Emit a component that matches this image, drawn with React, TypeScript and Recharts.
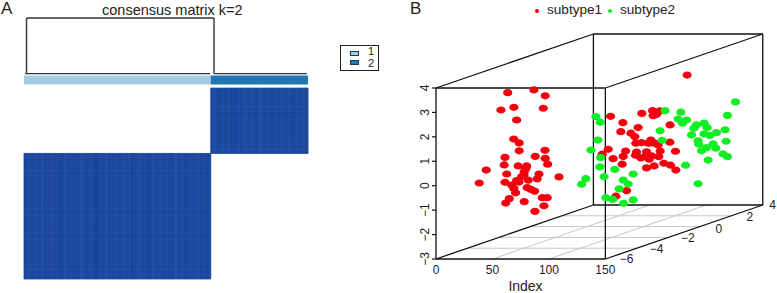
import React from 'react'
import {
  ComposedChart, Bar, Cell, XAxis, YAxis, ReferenceLine, ReferenceArea,
  ScatterChart, Scatter,
} from 'recharts'

// consensus matrix: sample counts per cluster, rows run cluster 2 then cluster 1
const clusterSizes = [96, 50]
const clusterColors = ['#a6cbe2', '#1f78b4']

// per sample consensus read from the faint stripes in each block
const cluster1Consensus = [
  1, 1, 0.97, 1, 1, 1, 0.98, 1, 1, 0.96, 1, 1, 1, 1, 0.98, 1, 1, 0.97, 1, 1, 1, 0.96, 1, 1,
  0.98, 1, 1, 1, 1, 0.96, 0.98, 1, 1, 1, 0.97, 1, 1, 1, 1, 0.98, 1, 1, 0.96, 1, 1, 1, 1, 0.97,
  1, 1, 1, 0.98, 1, 1, 0.96, 1, 1, 1, 1, 0.97, 1, 1, 0.98, 1, 1, 1, 0.96, 1, 1, 1, 0.98, 1,
  1, 0.97, 1, 1, 1, 1, 0.96, 1, 1, 0.98, 1, 1, 1, 0.97, 1, 1, 1, 0.96, 1, 1, 0.98, 1, 1, 1,
]
const cluster2Consensus = [
  1, 1, 0.98, 1, 1, 1, 0.97, 1, 1, 0.98, 1, 1, 1, 1, 0.96, 1, 1, 0.98, 1, 1, 1, 0.97, 1, 1, 1,
  0.95, 0.97, 1, 1, 0.98, 1, 1, 1, 0.97, 1, 1, 0.98, 1, 1, 1, 0.96, 1, 1, 1, 0.98, 1, 1, 0.97, 1, 1,
]
const cluster1Rows = [53, 58, 63, 67, 72, 78, 83, 87, 92, 97, 101, 106, 111, 116, 120, 125, 130, 135, 139, 143]
const cluster2Rows = [4, 9, 14, 18, 24, 29, 33, 38, 43, 47]

const dendrogramLegs = [1.3, 97.7]
const dendrogramTop = -53.5
const dendrogramFoot = -11
const annotationBand = [-9.6, -2.7]

const legendLabels = ['1', '2']

// 3D plot, points as projected onto the front face (index units, z units)
const subtype1Points = [
  [63.5, 3.81], [86.7, 3.92], [96.7, 3.68], [57.5, 3.10], [69.0, 3.21], [95.0, 3.17], [71.4, 2.69],
  [68.8, 1.91], [73.7, 1.75], [73.7, 1.43], [96.5, 1.45], [87.9, 1.20], [61.1, 1.16], [96.7, 1.12],
  [60.4, 0.85], [98.9, 0.88], [72.8, 0.81], [80.3, 0.81], [44.5, 0.64], [78.1, 0.57], [62.6, 0.48],
  [91.2, 0.48], [108.9, 0.36], [75.8, 0.37], [38.3, 0.11], [61.1, 0.14], [71.4, 0.21], [81.7, 0.23],
  [89.6, 0.28], [67.0, 0.03], [69.0, -0.11], [70.5, -0.29], [80.8, -0.08], [84.1, -0.15], [87.3, -0.22],
  [94.1, -0.49], [98.5, -0.49], [64.9, -0.53], [61.7, -0.71], [78.1, -0.65], [95.6, -0.82], [87.6, -1.05],
  [77.9, 0.44], [79.6, 0.71], [73.5, 0.15],
  [222.4, 4.53], [154.6, 2.84], [182.3, 2.96], [191.8, 3.07], [198.2, 3.06], [192.3, 2.87], [195.3, 2.92],
  [165.5, 2.58], [179.0, 2.38], [207.3, 2.49], [163.7, 2.21], [172.6, 2.15], [176.1, 2.01], [177.0, 1.74],
  [182.0, 1.76], [190.3, 1.87], [187.9, 1.74], [193.8, 1.74], [207.1, 1.78], [152.5, 1.49], [147.2, 1.29],
  [167.9, 1.42], [177.6, 1.38], [186.5, 1.39], [198.5, 1.42], [212.1, 1.41], [176.7, 1.25], [165.8, 1.20],
  [185.0, 1.19], [190.9, 1.22], [197.3, 1.19], [156.9, 1.11], [188.8, 1.09], [164.9, 0.88], [201.8, 0.92],
  [207.7, 0.84], [193.2, 0.81], [186.5, 0.73], [212.4, 0.64], [168.8, -0.20], [159.3, -0.43], [189.4, 1.75],
  [196.7, 1.67], [181.4, 1.14],
]
const subtype2Points = [
  [265.2, 3.43], [202.9, 3.07], [216.8, 3.01], [258.1, 2.88], [141.6, 2.83], [145.4, 2.60], [214.4, 2.73],
  [221.9, 2.69], [218.3, 2.56], [230.7, 2.49], [237.4, 2.56], [240.1, 2.38], [228.3, 2.35], [256.0, 2.29],
  [198.5, 2.25], [237.4, 2.12], [248.4, 2.17], [242.5, 2.06], [226.3, 2.08], [200.3, 1.86], [143.4, 1.87],
  [232.1, 1.84], [256.9, 1.82], [232.7, 1.70], [245.4, 1.71], [137.2, 1.46], [239.6, 1.56], [247.8, 1.54],
  [235.1, 1.43], [254.2, 1.30], [258.1, 1.19], [145.8, 1.15], [241.0, 1.05], [145.1, 0.77], [221.0, 0.84],
  [158.4, 0.67], [174.6, 0.48], [148.9, 0.37], [132.7, 0.29], [128.9, 0.06], [165.8, 0.23], [170.2, 0.07],
  [162.2, -0.13], [232.1, 0.08], [150.4, -0.49], [156.4, -0.56], [174.6, -0.58], [166.1, -0.72],
]

const indexTicks = [0, 50, 100, 150]
const zTicks = [-3, -2, -1, 0, 1, 2, 3, 4]
const depthGrid = [-4, -2, 0, 2]
const indexGrid = [50, 100]
const depthLabels = [
  { text: '\u22126', x: 168.8, y: -3 },
  { text: '\u22124', x: 195.3, y: -2.58 },
  { text: '\u22122', x: 223, y: -2.14 },
  { text: '0', x: 250.5, y: -1.76 },
  { text: '2', x: 277.9, y: -1.27 },
  { text: '4', x: 298.2, y: -0.79 },
]

const font = 'Arial, "Liberation Sans", sans-serif'
const DEPTH_DX = 139.4
const DEPTH_DZ = 2.21

const project = (index: number, depth: number, z: number) => {
  const t = (depth + 6) / 10
  return { x: index + t * DEPTH_DX, y: z + t * DEPTH_DZ }
}

const boxEdges = [
  [[0, -6, -3], [150, -6, -3]], [[150, -6, -3], [150, -6, 4]], [[150, -6, 4], [0, -6, 4]], [[0, -6, 4], [0, -6, -3]],
  [[0, 4, -3], [150, 4, -3]], [[150, 4, -3], [150, 4, 4]], [[150, 4, 4], [0, 4, 4]], [[0, 4, 4], [0, 4, -3]],
  [[0, -6, -3], [0, 4, -3]], [[150, -6, -3], [150, 4, -3]], [[150, -6, 4], [150, 4, 4]], [[0, -6, 4], [0, 4, 4]],
]

const toColor = (v: number) => {
  const t = (1 - v) / 0.1
  const r = Math.round(27 + t * 16)
  const g = Math.round(70 + t * 22)
  const b = Math.round(158 + t * 18)
  return `rgb(${r},${g},${b})`
}

const matrixRows = [
  ...cluster1Consensus.map((c, i) => ({ sample: i + 0.5, range: [clusterSizes[1], clusterSizes[0] + clusterSizes[1]], c })),
  ...cluster2Consensus.map((c, i) => ({ sample: clusterSizes[0] + i + 0.5, range: [0, clusterSizes[1]], c })),
]

const toPoints = (pts: number[][]) => pts.map(([x, y]) => ({ x, y }))

const Dot = (color: string) => (p: any) => <ellipse cx={p.cx} cy={p.cy} rx={4.6} ry={3.6} fill={color} />

const ZTick = (p: any) => (
  <text
    transform={`translate(${p.x - 1},${p.y}) rotate(-90)`}
    textAnchor="middle"
    fontSize={12}
    fontFamily={font}
    fill="#222"
  >
    {String(p.payload.value).replace('-', '\u2212')}
  </text>
)

const abs = (left: number, top: number, extra?: React.CSSProperties): React.CSSProperties => ({
  position: 'absolute', left, top, fontFamily: font, color: '#222', whiteSpace: 'nowrap', lineHeight: 1, ...extra,
})

export default function App() {
  const n = clusterSizes[0] + clusterSizes[1]
  return (
    <div style={{ position: 'absolute', left: 0, top: 0, width: 777, height: 293, background: '#fff', overflow: 'hidden' }}>
      <div style={{ position: 'absolute', left: 0, top: 0 }}>
        <ComposedChart
          width={330}
          height={293}
          data={matrixRows}
          barCategoryGap={0}
          barGap={0}
          margin={{ top: 17.4, right: 22, bottom: 14, left: 24 }}
        >
          <XAxis type="number" dataKey="sample" domain={[0, n]} hide />
          <YAxis type="number" domain={[-54, n]} reversed hide />
          <Bar dataKey="range" isAnimationActive={false}>
            {matrixRows.map(r => <Cell key={r.sample} fill={toColor(r.c)} stroke={toColor(r.c)} strokeWidth={0.8} />)}
          </Bar>
          {cluster1Rows.map(y => (
            <ReferenceLine
              key={`a${y}`}
              segment={[{ x: 0, y }, { x: clusterSizes[0], y }]}
              stroke="#3a63b2"
              strokeOpacity={0.3}
              strokeWidth={0.8}
            />
          ))}
          {cluster2Rows.map(y => (
            <ReferenceLine
              key={`b${y}`}
              segment={[{ x: clusterSizes[0], y }, { x: n, y }]}
              stroke="#3a63b2"
              strokeOpacity={0.3}
              strokeWidth={0.8}
            />
          ))}
          <ReferenceArea
            x1={0} x2={clusterSizes[0]} y1={annotationBand[0]} y2={annotationBand[1]}
            fill={clusterColors[0]} fillOpacity={1} stroke="none"
          />
          <ReferenceArea
            x1={clusterSizes[0]} x2={n} y1={annotationBand[0]} y2={annotationBand[1]}
            fill={clusterColors[1]} fillOpacity={1} stroke="none"
          />
          {dendrogramLegs.map(x => (
            <ReferenceLine
              key={x}
              segment={[{ x, y: dendrogramTop }, { x, y: dendrogramFoot }]}
              stroke="#333" strokeWidth={1.4}
            />
          ))}
          <ReferenceLine
            segment={[{ x: dendrogramLegs[0], y: dendrogramTop }, { x: dendrogramLegs[1], y: dendrogramTop }]}
            stroke="#333" strokeWidth={1.4}
          />
          <ReferenceLine
            segment={[{ x: 0.6, y: dendrogramFoot }, { x: clusterSizes[0] - 0.3, y: dendrogramFoot }]}
            stroke="#333" strokeWidth={1.4}
          />
          <ReferenceLine
            segment={[{ x: dendrogramLegs[1], y: dendrogramFoot }, { x: n - 0.6, y: dendrogramFoot }]}
            stroke="#333" strokeWidth={1.4}
          />
        </ComposedChart>
      </div>

      <div style={{ position: 'absolute', left: 410, top: 0 }}>
        <ScatterChart width={367} height={293} margin={{ top: 34, right: 0, bottom: 0, left: 0 }}>
          <XAxis
            type="number"
            dataKey="x"
            domain={[0, 302]}
            ticks={indexTicks}
            interval={0}
            height={34}
            axisLine={false}
            tickLine={false}
            tick={{ fontSize: 12, fill: '#222', fontFamily: font, dy: -2 }}
            tickMargin={2}
            label={{ value: 'Index', position: 'insideBottom', offset: 2, dx: -81, fontSize: 14, fill: '#222', fontFamily: font }}
          />
          <YAxis
            type="number"
            dataKey="y"
            domain={[-3, 6.21]}
            ticks={zTicks}
            interval={0}
            width={26}
            axisLine={false}
            tickSize={4}
            tickLine={{ stroke: '#111', strokeWidth: 1.2 }}
            tick={ZTick}
          />
          {depthGrid.map(d => (
            <ReferenceLine
              key={`d${d}`}
              segment={[project(0, d, -3), project(150, d, -3)]}
              stroke="#c6c6c6" strokeWidth={1}
            />
          ))}
          {indexGrid.map(i => (
            <ReferenceLine
              key={`i${i}`}
              segment={[project(i, -6, -3), project(i, 4, -3)]}
              stroke="#c6c6c6" strokeWidth={1}
            />
          ))}
          {boxEdges.map(([a, b], k) => (
            <ReferenceLine
              key={k}
              segment={[project(a[0], a[1], a[2]), project(b[0], b[1], b[2])]}
              stroke="#111" strokeWidth={1.3}
              ifOverflow="visible"
            />
          ))}
          <Scatter data={toPoints(subtype1Points)} shape={Dot('#f3000f')} isAnimationActive={false} />
          <Scatter data={toPoints(subtype2Points)} shape={Dot('#12ee26')} isAnimationActive={false} />
          {depthLabels.map(l => (
            <ReferenceLine
              key={l.text}
              segment={[{ x: l.x, y: l.y }, { x: l.x, y: l.y }]}
              stroke="none"
              ifOverflow="visible"
              label={{ value: l.text, position: 'middle', fontSize: 12, fill: '#222', fontFamily: font }}
            />
          ))}
        </ScatterChart>
      </div>

      <div style={abs(1, 0, { fontSize: 17 })}>A</div>
      <div style={abs(410, 0, { fontSize: 17 })}>B</div>
      <div style={abs(102, 3, { fontSize: 14.5 })}>consensus matrix k=2</div>

      <div style={{ position: 'absolute', left: 340, top: 45, width: 36.5, height: 24, border: '1px solid #222' }} />
      {legendLabels.map((t, i) => (
        <React.Fragment key={t}>
          <div
            style={{
              position: 'absolute', left: 350, top: 51 + i * 8.5, width: 6.5, height: 3,
              background: clusterColors[i], border: '1px solid #1c3a55',
            }}
          />
          <div style={abs(368, 45.5 + i * 12.8, { fontSize: 11 })}>{t}</div>
        </React.Fragment>
      ))}

      <div style={{ position: 'absolute', left: 535, top: 8.5, width: 4, height: 4, borderRadius: 2, background: '#f3000f' }} />
      <div style={abs(547, 3, { fontSize: 13.6 })}>subtype1</div>
      <div style={{ position: 'absolute', left: 608, top: 8.5, width: 4, height: 4, borderRadius: 2, background: '#12ee26' }} />
      <div style={abs(620, 3, { fontSize: 13.6 })}>subtype2</div>
    </div>
  )
}
